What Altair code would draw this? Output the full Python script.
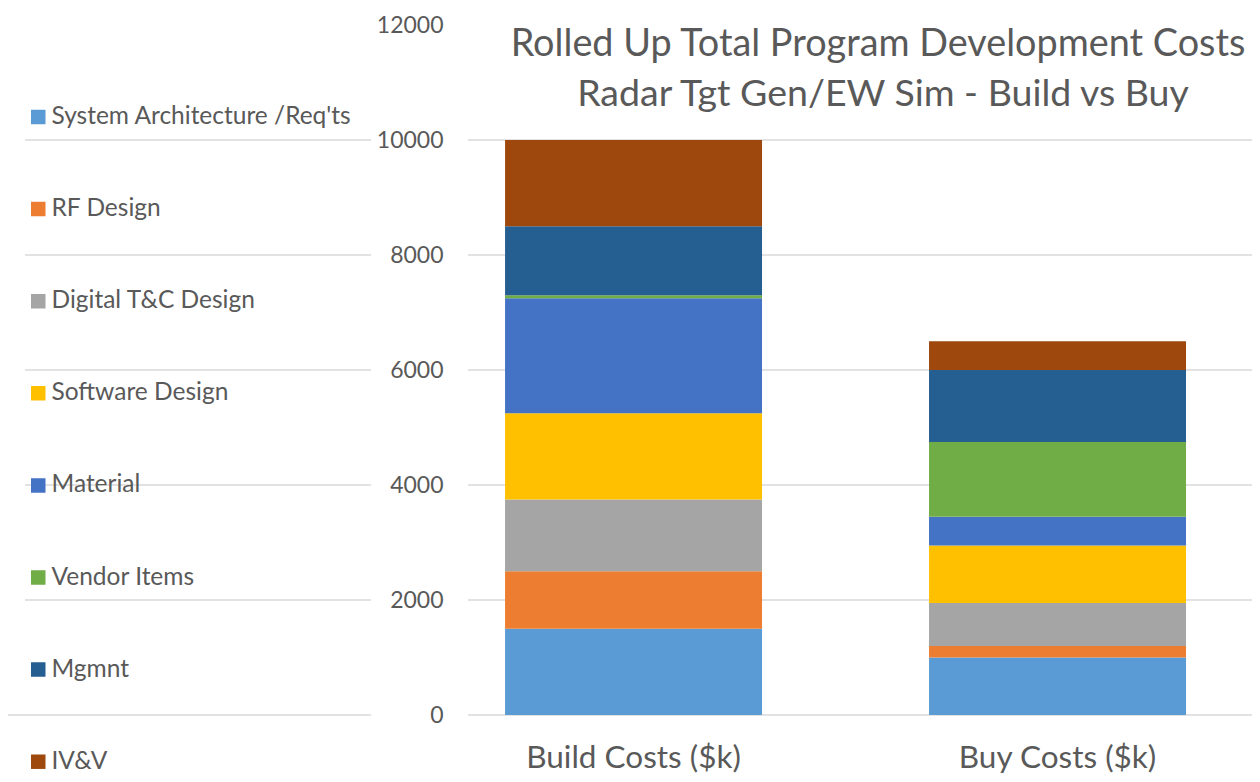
import altair as alt
import pandas as pd

# ---- data ----
CATEGORIES = [
    "System Architecture /Req'ts",
    "RF Design",
    "Digital T&C Design",
    "Software Design",
    "Material",
    "Vendor Items",
    "Mgmnt",
    "IV&V",
]
COLORS = ["#5B9BD5", "#ED7D31", "#A5A5A5", "#FFC000", "#4472C4", "#70AD47", "#255E91", "#9E480E"]
SCENARIOS = ["Build Costs ($k)", "Buy Costs ($k)"]
BUILD = [1500, 1000, 1250, 1500, 2000, 50, 1200, 1500]
BUY = [1000, 200, 750, 1000, 500, 1300, 1250, 500]
Y_TICKS = [0, 2000, 4000, 6000, 8000, 10000, 12000]
GRID_VALUES = [0, 2000, 4000, 6000, 8000, 10000]
TITLE_LINES = ["Rolled Up Total Program Development Costs", "Radar Tgt Gen/EW Sim - Build vs Buy"]

rows = []
for s, vals in zip(SCENARIOS, [BUILD, BUY]):
    for i, (c, v) in enumerate(zip(CATEGORIES, vals)):
        rows.append({"scenario": s, "category": c, "idx": i, "value": v})
df = pd.DataFrame(rows)
grid_df = pd.DataFrame({"v": GRID_VALUES})

FONT = "Lato"
GRAY = "#595959"
GRID = "#D9D9D9"
W, H = 1244, 690

y_scale = alt.Scale(domain=[0, 12000])
y_axis = alt.Axis(
    values=Y_TICKS, format="d", title=None, grid=False, domain=False, ticks=False,
    tickSize=0, labelPadding=0, offset=-435, labelFont=FONT, labelFontSize=23,
    labelColor=GRAY,
)

grid_right = alt.Chart(grid_df).mark_rule(color=GRID, strokeWidth=1.5).encode(
    y=alt.Y("v:Q", scale=y_scale, axis=y_axis),
    x=alt.value(460), x2=alt.value(W),
)
grid_left = alt.Chart(grid_df).transform_filter(alt.datum.v > 0).mark_rule(
    color=GRID, strokeWidth=1.5).encode(
    y=alt.Y("v:Q", scale=y_scale, axis=y_axis),
    x=alt.value(17), x2=alt.value(363),
)
grid_left0 = alt.Chart(grid_df).transform_filter(alt.datum.v == 0).mark_rule(
    color=GRID, strokeWidth=1.5).encode(
    y=alt.Y("v:Q", scale=y_scale, axis=y_axis),
    x=alt.value(0), x2=alt.value(363),
)

bars = alt.Chart(df).mark_bar().encode(
    x=alt.X(
        "scenario:N", sort=SCENARIOS,
        scale=alt.Scale(paddingInner=0.3939, paddingOuter=0.664, align=0.8828),
        axis=alt.Axis(title=None, labelAngle=0, domain=False, ticks=False, tickSize=0,
                      labelPadding=43, labelBaseline="middle", labelFont=FONT,
                      labelFontSize=31.5, labelColor=GRAY, labelLimit=500),
    ),
    y=alt.Y("value:Q", stack="zero", scale=y_scale, axis=y_axis),
    color=alt.Color(
        "category:N",
        scale=alt.Scale(domain=CATEGORIES, range=COLORS),
        legend=alt.Legend(
            title=None, orient="none", legendX=18, legendY=77, direction="vertical",
            symbolType="square", symbolSize=210, symbolStrokeWidth=0,
            labelFont=FONT, labelFontSize=24.5, labelColor=GRAY, labelOffset=1,
            clipHeight=30, rowPadding=62.1, labelLimit=400,
        ),
    ),
    order=alt.Order("idx:Q", sort="ascending"),
)

title1 = alt.Chart(pd.DataFrame({"t": [TITLE_LINES[0]]})).mark_text(
    font=FONT, fontSize=37.8, color=GRAY, align="center", baseline="middle"
).encode(text="t:N", x=alt.value(870), y=alt.value(20))
title2 = alt.Chart(pd.DataFrame({"t": [TITLE_LINES[1]]})).mark_text(
    font=FONT, fontSize=37.5, color=GRAY, align="center", baseline="middle"
).encode(text="t:N", x=alt.value(875), y=alt.value(70))

chart = alt.layer(grid_right, grid_left, grid_left0, bars, title1, title2).properties(
    width=W, height=H,
    autosize=alt.AutoSizeParams(type="none"),
    padding={"left": 0, "top": 17, "right": 0, "bottom": 59},
).configure_view(stroke=None)

chart.save("out.html", embed_options={"renderer": "svg", "actions": False})
